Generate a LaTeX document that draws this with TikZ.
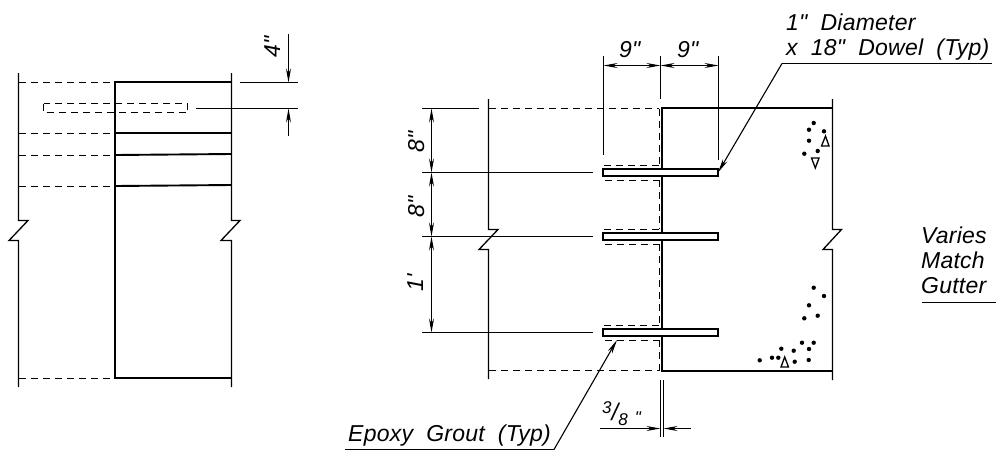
\documentclass[tikz,border=0pt]{standalone}
\usepackage{fontspec}
\newfontfamily\dimfont[LetterSpace=1,WordSpace=2]{Liberation Sans}
\usetikzlibrary{arrows.meta,positioning}
\tikzset{
  thinline/.style={line width=1.3pt},
  heavyline/.style={line width=1.9pt},
  hidden/.style={line width=1.3pt, dash pattern=on 7pt off 5pt},
  dimarrow/.style={line width=1.1pt, -{Stealth[length=14pt,width=5pt]}},
  twoway/.style={line width=1.1pt, {Stealth[length=14pt,width=5pt]}-{Stealth[length=14pt,width=5pt]}},
  callout/.style={font=\dimfont\fontsize{23}{23}\selectfont\itshape, inner sep=0pt, anchor=base west},
  fractext/.style={font=\dimfont\fontsize{17}{17}\selectfont\itshape, inner sep=0pt, anchor=base west},
  dotmark/.style={circle, fill=black, minimum size=4.4pt, inner sep=0pt},
  aggregate/.style={line width=1.3pt}
}
\begin{document}
\begin{tikzpicture}[x=1pt,y=-1pt]
  \useasboundingbox (0,0) rectangle (996,451);
  \coordinate (lA) at (18.5,73);
  \coordinate (lB) at (231.5,73);
  \draw[thinline] (lA) -- (18.5,220.5) -- (28,220.5) -- (9,240.5) -- (18.5,240.5) -- (18.5,387);
  \draw[thinline] (lB) -- (231.5,220.5) -- (240,220.5) -- (221,240.5) -- (231.5,240.5) -- (231.5,387);
  \draw[heavyline] (231,82) -- (115,82) -- (115,378) -- (231,378);
  \foreach \yy in {82.5,133.5,155.5,186.5,378.5}
    \draw[hidden] (19,\yy) -- (115,\yy);
  \draw[heavyline] (115,133) -- (231,133);
  \draw[heavyline] (115,155) -- (231,154);
  \draw[heavyline] (115,186) -- (231,185);
  \draw[hidden] (43.5,103.5) rectangle (187.5,112.5);
  \draw[thinline] (240,82.5) -- (298,82.5);
  \draw[thinline] (196,108.5) -- (298,108.5);
  \draw[dimarrow] (288.5,34) -- (288.5,82.5);
  \draw[dimarrow] (288.5,136) -- (288.5,108.5);
  \node[callout, rotate=90] (four) at (280,58) {4"};

  \coordinate (rA) at (488.5,99);
  \coordinate (rB) at (832.5,99);
  \draw[thinline] (rA) -- (488.5,229.5) -- (498,229.5) -- (479,249.5) -- (488.5,249.5) -- (488.5,379);
  \draw[thinline] (rB) -- (832.5,229.5) -- (841.5,229.5) -- (823,249.5) -- (832.5,249.5) -- (832.5,380);
  \draw[heavyline] (832.5,108) -- (662,108) -- (662,371) -- (832.5,371);
  \draw[hidden] (489,108.5) -- (659,108.5);
  \draw[hidden] (489,370.5) -- (659,370.5);
  \draw[thinline] (422,108.5) -- (479,108.5);
  \foreach \yy/\nn in {172.5/a,236.5/b,332.5/c} {
    \draw[thinline] (422,\yy) -- (593,\yy);
    \draw[hidden] (659,\yy-7) -- (603.5,\yy-7) -- (603.5,\yy+8) -- (659,\yy+8);
    \draw[heavyline, line width=1.5pt, fill=white] (603,\yy-3.5) rectangle (718,\yy+3.5);
    \coordinate (dowel\nn) at (718,\yy);
  }
  \draw[hidden] (659.5,108.5) -- (659.5,165);
  \draw[hidden] (659.5,180) -- (659.5,229);
  \draw[hidden] (659.5,244) -- (659.5,325);
  \draw[hidden] (659.5,340) -- (659.5,370.5);
  \draw[thinline] (603.5,56) -- (603.5,155);
  \draw[thinline] (660.5,56) -- (660.5,99);
  \draw[thinline] (718.5,56) -- (718.5,160);
  \draw[twoway] (603.5,65.5) -- (660.5,65.5);
  \draw[twoway] (660.5,65.5) -- (718.5,65.5);
  \node[callout] (nineL) at (619,57) {9"};
  \node[callout] (nineR) at (677,57) {9"};
  \draw[twoway] (431.5,108.5) -- (431.5,172.5);
  \draw[twoway] (431.5,172.5) -- (431.5,236.5);
  \draw[twoway] (431.5,236.5) -- (431.5,332.5);
  \node[callout, rotate=90] (eightA) at (424,153) {8"};
  \node[callout, rotate=90] (eightB) at (424,218) {8"};
  \node[callout, rotate=90] (oneft) at (423,292) {1'};

  \node[callout] (dia) at (786,30) {1" Diameter};
  \node[callout] (dow) at (786,55) {x 18" Dowel (Typ)};
  \coordinate (diaL) at (782,63.5);
  \draw[thinline] (992,63.5) -- (diaL);
  \draw[dimarrow] (diaL) -- (dowela);
  \node[callout] (epoxy) at (348,441) {Epoxy Grout (Typ)};
  \coordinate (epoxyL) at (554,449.5);
  \draw[thinline] (345,449.5) -- (epoxyL);
  \draw[dimarrow] (epoxyL) -- (617,340);

  \draw[thinline] (660.5,380) -- (660.5,437);
  \draw[thinline] (663.5,380) -- (663.5,437);
  \draw[dimarrow] (600,428.5) -- (660.5,428.5);
  \draw[dimarrow] (691,428.5) -- (663.5,428.5);
  \node[fractext] (threeEighths) at (602,420.5) {\raisebox{7.5pt}{3}{\fontsize{24}{24}\selectfont /}\raisebox{-4.5pt}{8}\kern7pt\raisebox{-3pt}{"}};

  \node[callout] (varies) at (921,243) {Varies};
  \node[callout] (match) at (921,268) {Match};
  \node[callout] (gutter) at (921,293) {Gutter};
  \draw[thinline] (922,302.5) -- (996,302.5);

  \foreach \xx/\yy in {813.7/123,809/129.7,824/131.3,809/140.7,804.3/153.7,817.7/151,
    813.7/287.7,824/296,809/305.3,804.3/318.3,817.7/315.7,802/342.7,813.7/342.7,
    781.3/348.7,793.7/350.7,809/349,759.7/360.3,772/357.7,778.3/357.7,794.7/361.7,808.7/360}
    \node[dotmark] at (\xx,\yy) {};
  \draw[aggregate] (821.5,146) -- (825.5,136) -- (829,146) -- cycle;
  \draw[aggregate] (811.5,158) -- (819,158) -- (815.3,168) -- cycle;
  \draw[aggregate] (781,367) -- (784.7,357) -- (788.5,367) -- cycle;
\end{tikzpicture}
\end{document}
